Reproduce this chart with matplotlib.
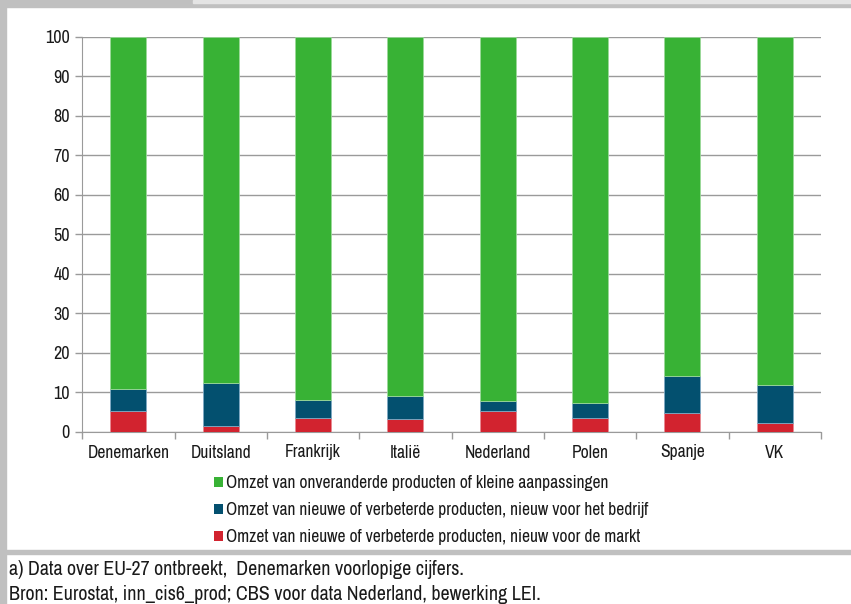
import matplotlib
matplotlib.use("Agg")
import matplotlib.pyplot as plt
from matplotlib.patches import Rectangle, Patch
import numpy as np

countries = ["Denemarken", "Duitsland", "Frankrijk", "Italië", "Nederland", "Polen", "Spanje", "VK"]
markt = [5.2, 1.4, 3.5, 3.2, 5.2, 3.6, 4.9, 2.3]
bedrijf = [5.7, 11.1, 4.7, 6.0, 2.7, 3.7, 9.3, 9.6]
onveranderd = [89.1, 87.5, 91.8, 90.8, 92.1, 92.7, 85.8, 88.1]

labels = ["Omzet van onveranderde producten of kleine aanpassingen",
          "Omzet van nieuwe of verbeterde producten, nieuw voor het bedrijf",
          "Omzet van nieuwe of verbeterde producten, nieuw voor de markt"]
footnotes = ["a) Data over EU-27 ontbreekt,  Denemarken voorlopige cijfers.",
             "Bron: Eurostat, inn_cis6_prod; CBS voor data Nederland, bewerking LEI."]

plt.rcParams['font.family'] = ['Archivo Narrow', 'DejaVu Sans']

GREEN = "#38B235"
BLUE = "#03506F"
RED = "#D2232F"
GRID = "#9A9A9A"
TXT = "#1a1a1a"

W, H = 851, 604
fig = plt.figure(figsize=(W/100, H/100), dpi=100)

def px(x0, y0, x1, y1):
    return [x0/W, 1 - y1/H, (x1-x0)/W, (y1-y0)/H]

# frame decoration
fig.add_artist(Rectangle((0, 0), 6/W, 1, transform=fig.transFigure, color="#C0C0C0", zorder=0))
fig.add_artist(Rectangle((0, 1-7/H), 1, 7/H, transform=fig.transFigure, color="#C0C0C0", zorder=0))
fig.add_artist(Rectangle((193/W, 1-3/H), 1, 3/H, transform=fig.transFigure, color="#E4E4E4", zorder=1))
fig.add_artist(Rectangle((6/W, 1-554/H), 1, 4/H, transform=fig.transFigure, color="#C0C0C0", zorder=0))

ax = fig.add_axes(px(82.3, 36.5, 821, 432))
x = np.arange(len(countries))
bw = 0.39
ax.bar(x, markt, bw, color=RED, edgecolor="#E88A92", linewidth=0.6, zorder=3)
ax.bar(x, bedrijf, bw, bottom=markt, color=BLUE, edgecolor="#7FA9C4", linewidth=0.6, zorder=3)
bot2 = np.array(markt) + np.array(bedrijf)
ax.bar(x, onveranderd, bw, bottom=bot2, color=GREEN, edgecolor="#9BD89A", linewidth=0.6, zorder=3)

ax.set_xlim(-0.5, len(countries) - 0.5)
ax.set_ylim(0, 100)
ax.set_yticks(range(0, 101, 10))
ax.yaxis.grid(True, color=GRID, linewidth=1.0, zorder=0)
ax.set_axisbelow(True)
for s in ["top", "right"]:
    ax.spines[s].set_visible(False)
ax.spines["left"].set_color(GRID)
ax.spines["bottom"].set_color(GRID)
ax.tick_params(axis="y", length=5, width=1.0, color=GRID, labelsize=13, labelcolor=TXT, pad=4)
ax.set_xticks(x)
ax.set_xticklabels(countries, fontsize=12.6, color=TXT)
ax.tick_params(axis="x", length=0, pad=9)
ax.set_xticks(np.arange(-0.5, len(countries)), minor=True)
ax.tick_params(axis="x", which="minor", length=5, width=1.0, color=GRID)

handles = [Patch(facecolor=GREEN), Patch(facecolor=BLUE), Patch(facecolor=RED)]
fig.legend(handles, labels, loc="upper left", bbox_to_anchor=(205/W, 1 - 466.5/H),
           frameon=False, fontsize=12.6, handlelength=0.5, handleheight=0.5,
           handletextpad=0.2, labelspacing=0.62, borderpad=0, labelcolor=TXT)

fig.text(9/W, 1 - 569.5/H, footnotes[0], fontsize=14.4, color=TXT, va="center", ha="left")
fig.text(9/W, 1 - 595/H, footnotes[1], fontsize=14.4, color=TXT, va="center", ha="left")

fig.savefig("out.png", dpi=100)
